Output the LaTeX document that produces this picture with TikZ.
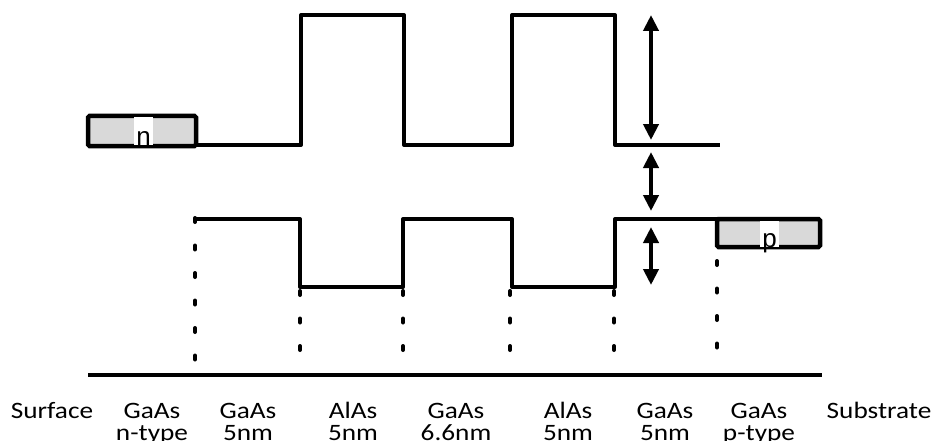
\documentclass[tikz,border=0pt]{standalone}
\usepackage{fontspec}
\setmainfont{Carlito}[FakeStretch=1.16]
\newfontfamily\dopefont{Liberation Sans}
\usetikzlibrary{arrows.meta}
\begin{document}
\begin{tikzpicture}[x=1pt,y=-1pt,
  band/.style={line width=4pt, line join=round},
  dots/.style={line width=4pt, line cap=round, dash pattern=on 4pt off 23.5pt},
  gap/.style={line width=4pt, {Triangle[width=15pt,length=16pt]}-{Triangle[width=15pt,length=16pt]}},
  dopebox/.style={draw, line width=4.5pt, fill=black!15, rounded corners=1.5pt},
  dopant/.style={font=\dopefont\fontsize{26}{26}\selectfont, fill=white,
    inner xsep=2pt, inner ysep=0pt, text depth=0pt, anchor=base},
  layer/.style={font=\fontsize{23.5}{22.5}\selectfont, align=center, anchor=base}]
\useasboundingbox (0,0) rectangle (936,441);

% doped contact layers
\draw[dopebox] (88,116) rectangle (196,146);
\node[dopant, text height=28pt] (nlab) at (143.5,145) {n};
\draw[dopebox] (717,219) rectangle (820,247);
\node[dopant, text height=26pt] (plab) at (769.5,247) {p};

% conduction band edge
\draw[band] (196,145) -| (301,15) -| (404,145) -| (512,15) -| (615,145) -- (720,145);
% valence band edge
\draw[band] (195,219) -| (300,287) -| (403,219) -| (512,287) -| (615,219) -- (717,219);

% interface markers
\draw[dots] (195,218) -- (195,370);
\foreach \xx in {300,403,510,614}
  \draw[dots] (\xx,291) -- (\xx,360);
\draw[dots] (717,261) -- (717,360);

% depth axis
\draw[line width=4.5pt] (88,375) -- (822,375);

% band offsets and gap
\coordinate (cbtop) at (651,15);
\coordinate (cbbot) at (651,140);
\coordinate (egtop) at (651,152);
\coordinate (egbot) at (651,211);
\coordinate (vbtop) at (651,227);
\coordinate (vbbot) at (651,285);
\draw[gap] (cbtop) -- (cbbot);
\draw[gap] (egtop) -- (egbot);
\draw[gap] (vbtop) -- (vbbot);

% layer labels (two-line labels sit on their second baseline)
\node[layer] (l0) at (52,418) {Surface};
\node[layer] (l1) at (152,440.5) {GaAs\\n-type};
\node[layer] (l2) at (248,440.5) {GaAs\\5nm};
\node[layer] (l3) at (353,440.5) {AlAs\\5nm};
\node[layer] (l4) at (456,440.5) {GaAs\\6.6nm};
\node[layer] (l5) at (568,440.5) {AlAs\\5nm};
\node[layer] (l6) at (665,440.5) {GaAs\\5nm};
\node[layer] (l7) at (759,440.5) {GaAs\\p-type};
\node[layer] (l8) at (879,418) {Substrate};
\end{tikzpicture}
\end{document}
